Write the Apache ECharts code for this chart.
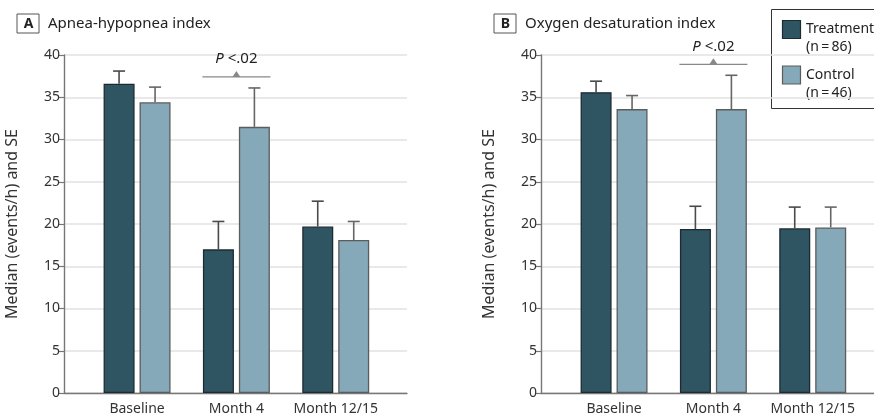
<!DOCTYPE html>
<html lang="en">
<head>
    <meta charset="utf-8">
    <title>Median AHI and ODI</title>
    <script src="https://cdn.jsdelivr.net/npm/echarts@6/dist/echarts.min.js"></script>
    <style>
        html, body { margin: 0; padding: 0; background: #fff; }
        #main { width: 874px; height: 419px; }
    </style>
</head>
<body>
    <div id="main"></div>
    <script type="text/javascript">
        // data
        var categories = ['Baseline', 'Month 4', 'Month 12/15'];
        var yTicks = [0, 5, 10, 15, 20, 25, 30, 35, 40];

        var ahiTreatment = [36.6, 17.0, 19.7];
        var ahiTreatmentSE = [1.5, 3.3, 3.0];
        var ahiControl = [34.4, 31.5, 18.1];
        var ahiControlSE = [1.8, 4.6, 2.2];

        var odiTreatment = [35.6, 19.4, 19.5];
        var odiTreatmentSE = [1.3, 2.7, 2.5];
        var odiControl = [33.6, 33.6, 19.6];
        var odiControlSE = [1.6, 4.0, 2.4];

        // P value bracket: [category index, height]
        var ahiPMark = [1, 37.4];
        var odiPMark = [1, 38.9];
        var pText = '<.02';

        var seriesNames = ['Treatment', 'Control'];
        var seriesN = [86, 46];

        var darkCol = '#2f5563';
        var lightCol = '#85a9b8';
        var font = 'Noto Sans';
        var half = 18; // px from group centre to each bar centre

        var myChart = echarts.init(document.getElementById('main'));

        function errData(vals, se) {
            return vals.map(function (v, i) { return [i, v, v + se[i]]; });
        }

        function errRender(offset, col) {
            return function (params, api) {
                var base = api.coord([api.value(0), api.value(1)]);
                var top = api.coord([api.value(0), api.value(2)]);
                var x = base[0] + offset;
                var st = { stroke: col, lineWidth: 1.6 };
                return {
                    type: 'group',
                    children: [
                        { type: 'line', shape: { x1: x, y1: base[1], x2: x, y2: top[1] }, style: st },
                        { type: 'line', shape: { x1: x - 6, y1: top[1], x2: x + 6, y2: top[1] }, style: st }
                    ]
                };
            };
        }

        function pRender(params, api) {
            var p = api.coord([api.value(0), api.value(1)]);
            var x = p[0], y = p[1];
            return {
                type: 'group',
                children: [
                    { type: 'line', shape: { x1: x - 34, y1: y, x2: x + 34, y2: y },
                      style: { stroke: '#888', lineWidth: 1.2 } },
                    { type: 'polygon', shape: { points: [[x - 4, y], [x + 4, y], [x, y - 6]] },
                      style: { fill: '#888' } },
                    { type: 'text', x: x, y: y - 18,
                      style: { text: '{i|P} ' + pText, align: 'center', verticalAlign: 'middle',
                               fill: '#222', font: '15px "' + font + '"',
                               rich: { i: { fontStyle: 'italic', fontSize: 15, fontFamily: font, fill: '#222' } } } }
                ]
            };
        }

        var grids = [
            { left: 64, top: 55, width: 343, height: 338 },
            { left: 87.4, top: 55, width: 298, height: 338 },
            { left: 541, top: 55, width: 343, height: 338 },
            { left: 564.4, top: 55, width: 298, height: 338 }
        ];

        function bgX(gi) {
            return { type: 'category', gridIndex: gi, data: [''],
                axisLine: { lineStyle: { color: '#777', width: 1.4 } },
                axisTick: { show: false }, axisLabel: { show: false } };
        }
        function barX(gi) {
            return { type: 'category', gridIndex: gi, data: categories,
                axisLine: { show: false }, axisTick: { show: false },
                axisLabel: { interval: 0, color: '#333', fontSize: 14, fontFamily: font, margin: 9 } };
        }
        function bgY(gi) {
            return { type: 'value', gridIndex: gi, min: yTicks[0], max: yTicks[yTicks.length - 1], interval: 5,
                name: 'Median (events/h) and SE', nameLocation: 'middle', nameGap: 44,
                nameTextStyle: { color: '#333', fontSize: 16, fontFamily: font },
                axisLine: { show: true, lineStyle: { color: '#777', width: 1.4 } },
                axisTick: { show: true, length: 6, lineStyle: { color: '#777', width: 1.2 } },
                axisLabel: { color: '#333', fontSize: 14, fontFamily: font, margin: 4 },
                splitLine: { lineStyle: { color: '#e2e2e2', width: 1.5 } } };
        }
        function barY(gi) {
            return { type: 'value', gridIndex: gi, min: yTicks[0], max: yTicks[yTicks.length - 1], show: false,
                splitLine: { show: false } };
        }

        function panelSeries(ax, treat, treatSE, ctrl, ctrlSE, pMark) {
            return [
                { name: seriesNames[0], type: 'bar', xAxisIndex: ax, yAxisIndex: ax, data: treat,
                  barWidth: 31, barGap: '16%',
                  itemStyle: { color: darkCol, borderColor: '#1d2b31', borderWidth: 1.3 } },
                { name: seriesNames[1], type: 'bar', xAxisIndex: ax, yAxisIndex: ax, data: ctrl,
                  barWidth: 31, barGap: '16%',
                  itemStyle: { color: lightCol, borderColor: '#5c5c5c', borderWidth: 1.3 } },
                { type: 'custom', xAxisIndex: ax, yAxisIndex: ax, z: 3, silent: true,
                  data: errData(treat, treatSE), renderItem: errRender(-half, '#4a4a4a') },
                { type: 'custom', xAxisIndex: ax, yAxisIndex: ax, z: 3, silent: true,
                  data: errData(ctrl, ctrlSE), renderItem: errRender(half, '#666') },
                { type: 'custom', xAxisIndex: ax, yAxisIndex: ax, z: 3, silent: true,
                  data: [pMark], renderItem: pRender }
            ];
        }

        function titleOpt(left, letter, text) {
            return {
                left: left, top: 10,
                text: '{b|' + letter + '}{t|' + text + '}',
                textStyle: {
                    fontWeight: 'normal',
                    rich: {
                        b: { fontFamily: font, fontSize: 14, fontWeight: 'bold', color: '#222',
                             borderColor: '#555', borderWidth: 1, width: 11, align: 'center',
                             padding: [3, 5, 2, 6], lineHeight: 17 },
                        t: { fontFamily: font, fontSize: 15, fontWeight: 'normal', color: '#222', padding: [0, 0, 0, 9] }
                    }
                }
            };
        }

        // legend box (top right of panel B)
        var legendItems = [];
        var legendCols = [[darkCol, '#1d2b31'], [lightCol, '#5c5c5c']];
        seriesNames.forEach(function (nm, i) {
            var y0 = 20.5 + i * 45.5;
            legendItems.push({ type: 'rect', shape: { x: 782.5, y: y0, width: 18, height: 18 },
                style: { fill: legendCols[i][0], stroke: legendCols[i][1], lineWidth: 1.2 } });
            legendItems.push({ type: 'text', x: 806, y: y0 + 9,
                style: { text: nm, fill: '#222', font: '14px "' + font + '"', verticalAlign: 'middle' } });
            legendItems.push({ type: 'text', x: 806, y: y0 + 27,
                style: { text: '(n\u2009=\u2009' + seriesN[i] + ')', fill: '#222', font: '14px "' + font + '"', verticalAlign: 'middle' } });
        });

        myChart.setOption({
            animation: false,
            title: [
                titleOpt(12, 'A', 'Apnea-hypopnea index'),
                titleOpt(489, 'B', 'Oxygen desaturation index')
            ],
            grid: grids,
            xAxis: [bgX(0), barX(1), bgX(2), barX(3)],
            yAxis: [bgY(0), barY(1), bgY(2), barY(3)],
            series: [].concat(
                panelSeries(1, ahiTreatment, ahiTreatmentSE, ahiControl, ahiControlSE, ahiPMark),
                panelSeries(3, odiTreatment, odiTreatmentSE, odiControl, odiControlSE, odiPMark)
            ),
            graphic: [
                { type: 'group', z: 10, children: [
                    { type: 'rect', shape: { x: 771.5, y: 9.5, width: 130, height: 99 },
                      style: { fill: '#fff', stroke: '#333', lineWidth: 1 } }
                ].concat(legendItems) }
            ]
        });
    </script>
</body>
</html>
